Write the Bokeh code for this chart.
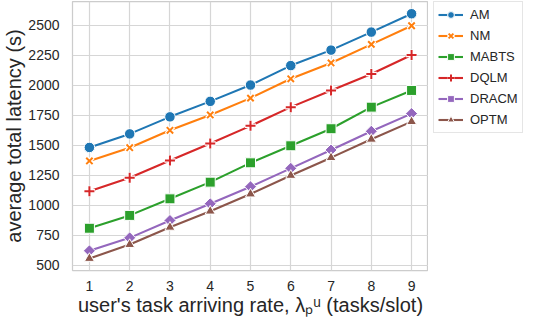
from bokeh.plotting import figure
from bokeh.models import Range1d, FixedTicker, Legend, LegendItem
from bokeh.layouts import row
from bokeh.embed import file_html
from bokeh.resources import INLINE
import numpy as np

# ---- data ----
x_vals = [1, 2, 3, 4, 5, 6, 7, 8, 9]
am = [1480, 1593, 1735, 1864, 2000, 2162, 2291, 2441, 2594]
nm = [1368, 1478, 1623, 1751, 1891, 2052, 2184, 2339, 2494]
mabts = [807, 914, 1052, 1191, 1352, 1494, 1636, 1816, 1955]
dqlm = [1116, 1228, 1371, 1513, 1660, 1816, 1955, 2092, 2250]
dracm = [619, 727, 872, 1011, 1153, 1306, 1459, 1615, 1762]
optm = [555, 671, 815, 949, 1092, 1247, 1395, 1548, 1695]
series_names = ["AM", "NM", "MABTS", "DQLM", "DRACM", "OPTM"]
y_ticks = [500, 750, 1000, 1250, 1500, 1750, 2000, 2250, 2500]
x_ticks = [1, 2, 3, 4, 5, 6, 7, 8, 9]
y_label = "average total latency (s)"
x_label = "user's task arriving rate, λₚᵘ (tasks/slot)"

FONT = "Liberation Sans"
TXT = "#262626"
GRID = "#d6d6d6"
colors = ["#1f77b4", "#ff7f0e", "#2ca02c", "#d62728", "#9467bd", "#8c564b"]
data = [am, nm, mabts, dqlm, dracm, optm]

MAIN_W, H = 428, 318
LEG_W = 106
TOP, BOTTOM = 1, 44


def add_series(fig, name, ys, c):
    rs = [fig.line(x_vals, ys, line_color=c, line_width=2.1)]
    if name == "AM":
        rs.append(fig.scatter(x_vals, ys, marker="circle", size=10.5, fill_color=c,
                              line_color="white", line_width=1))
    elif name == "NM":
        rs.append(fig.scatter(x_vals, ys, marker="x", size=10, line_color="white",
                              line_width=4.5))
        rs.append(fig.scatter(x_vals, ys, marker="x", size=9, line_color=c,
                              line_width=2))
    elif name == "MABTS":
        rs.append(fig.scatter(x_vals, ys, marker="square", size=10, fill_color=c,
                              line_color="white", line_width=1))
    elif name == "DQLM":
        rs.append(fig.scatter(x_vals, ys, marker="cross", size=11, line_color="white",
                              line_width=4.5))
        rs.append(fig.scatter(x_vals, ys, marker="cross", size=10, line_color=c,
                              line_width=2))
    elif name == "DRACM":
        rs.append(fig.scatter(x_vals, ys, marker="square", size=8.5, angle=np.pi / 4,
                              fill_color=c, line_color="white", line_width=1))
    elif name == "OPTM":
        rs.append(fig.scatter(x_vals, ys, marker="triangle", size=10, fill_color=c,
                              line_color="white", line_width=1))
    return rs


# ---- main plot ----
p = figure(width=MAIN_W, height=H, output_backend="svg", toolbar_location=None,
           x_range=Range1d(0.58, 9.42), y_range=Range1d(455, 2696),
           min_border_left=40, min_border_right=0, min_border_top=TOP,
           min_border_bottom=BOTTOM)
p.background_fill_color = "white"
p.border_fill_color = "white"
p.outline_line_color = "#cccccc"
p.outline_line_width = 1.25

xt = FixedTicker(ticks=x_ticks)
yt = FixedTicker(ticks=y_ticks)
p.xaxis.ticker = xt
p.yaxis.ticker = yt
p.xgrid.ticker = xt
p.ygrid.ticker = yt
p.xgrid.grid_line_color = GRID
p.ygrid.grid_line_color = GRID
p.xgrid.grid_line_width = 1.2
p.ygrid.grid_line_width = 1.2
for ax in (p.xaxis[0], p.yaxis[0]):
    ax.axis_line_color = None
    ax.major_tick_line_color = None
    ax.minor_tick_line_color = None
    ax.major_label_text_font = FONT
    ax.major_label_text_font_size = "14px"
    ax.major_label_text_color = TXT
    ax.axis_label_text_font = FONT
    ax.axis_label_text_font_size = "20px"
    ax.axis_label_text_font_style = "normal"
    ax.axis_label_text_color = TXT
p.yaxis.major_label_standoff = 7
p.xaxis.major_label_standoff = 4
p.yaxis.axis_label = y_label
p.yaxis.axis_label_standoff = 0
p.xaxis.axis_label = x_label
p.xaxis.axis_label_standoff = 0

for name, ys, c in zip(series_names, data, colors):
    add_series(p, name, ys, c)

# ---- legend panel (same series, drawn out of view; only the legend shows) ----
lg = figure(width=LEG_W, height=H, output_backend="svg",
            toolbar_location=None, x_range=Range1d(100, 101),
            y_range=Range1d(100, 101), x_axis_location=None,
            y_axis_location=None, min_border_left=5, min_border_right=0,
            min_border_top=TOP, min_border_bottom=BOTTOM)
lg.outline_line_color = None
lg.background_fill_color = "white"
lg.border_fill_color = "white"
lg.xgrid.visible = False
lg.ygrid.visible = False
items = []
for name, ys, c in zip(series_names, data, colors):
    items.append(LegendItem(label=name, renderers=add_series(lg, name, ys, c)))
legend = Legend(items=items, location="top_left", margin=0, padding=4,
                spacing=4, glyph_width=25, glyph_height=17, label_height=17,
                label_standoff=7, label_text_font=FONT,
                label_text_font_size="13px", label_text_color=TXT,
                border_line_color="#cccccc", border_line_width=1,
                background_fill_color="white", background_fill_alpha=1)
lg.add_layout(legend)

layout = row(p, lg, spacing=0)
open("out.html", "w").write(file_html(layout, INLINE))
